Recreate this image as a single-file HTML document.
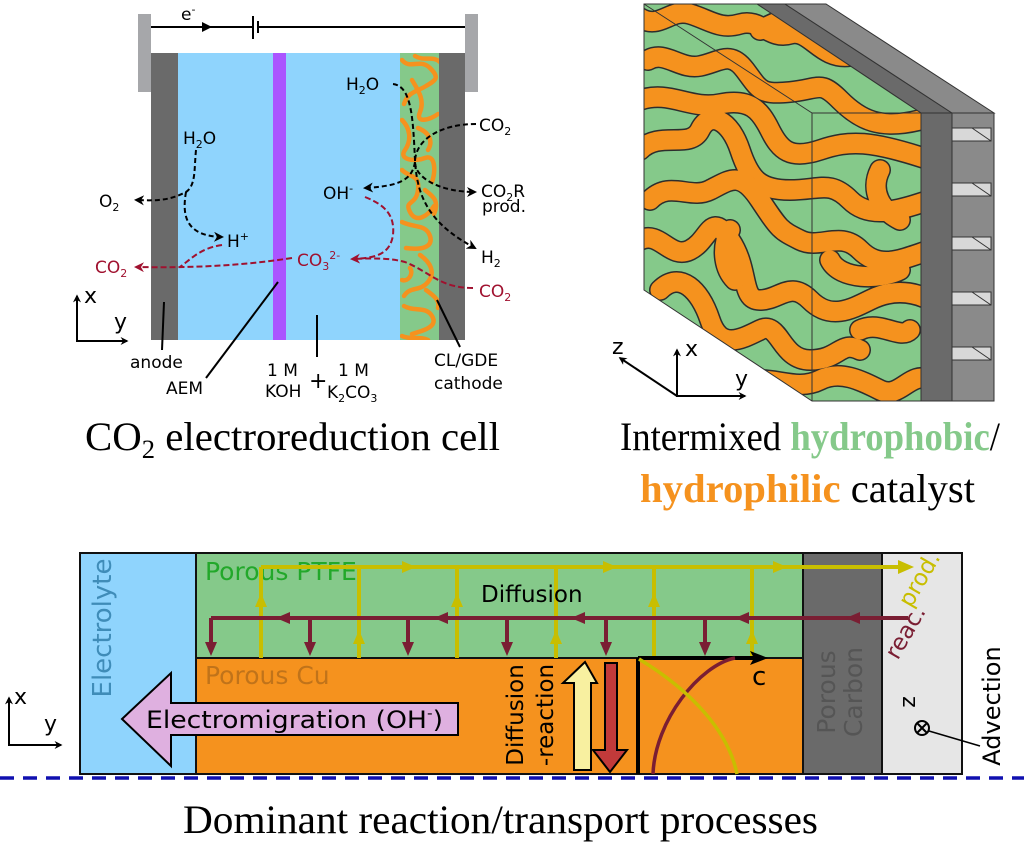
<!DOCTYPE html>
<html><head><meta charset="utf-8"><style>
html,body{margin:0;padding:0;background:#fff;}
svg{display:block;}
text{font-family:"DejaVu Sans","Liberation Sans",sans-serif;}
.serif{font-family:"Liberation Serif",serif;}
</style></head><body>
<svg width="1024" height="844" viewBox="0 0 1024 844" xmlns="http://www.w3.org/2000/svg">
<defs>
<marker id="ab" viewBox="0 0 10 10" refX="8" refY="5" markerWidth="5" markerHeight="5" orient="auto"><path d="M0,0 L10,5 L0,10 L3,5z" fill="#000"/></marker>
<marker id="ar" viewBox="0 0 10 10" refX="8" refY="5" markerWidth="5" markerHeight="5" orient="auto"><path d="M0,0 L10,5 L0,10 L3,5z" fill="#a0112f"/></marker>
<marker id="ak" viewBox="0 0 10 10" refX="8" refY="5" markerWidth="4" markerHeight="4" orient="auto"><path d="M0,0 L10,5 L0,10 L3,5z" fill="#000"/></marker>
<clipPath id="cube"><polygon points="644,4 757,4 921,113 921,401 812,401 644,290"/></clipPath>
<clipPath id="cl"><rect x="400" y="53" width="39" height="287"/></clipPath>
</defs>

<!-- ============ LEFT CELL ============ -->
<rect x="138" y="14" width="13" height="78" fill="#a6a7aa"/>
<rect x="465" y="14" width="13" height="78" fill="#a6a7aa"/>
<line x1="151" y1="27" x2="253" y2="27" stroke="#000" stroke-width="2"/>
<line x1="258" y1="27" x2="465" y2="27" stroke="#000" stroke-width="2"/>
<line x1="253" y1="16" x2="253" y2="39" stroke="#000" stroke-width="2"/>
<line x1="258" y1="21" x2="258" y2="33" stroke="#000" stroke-width="2"/>
<path d="M202,22 L212,27 L202,32 z" fill="#000"/>
<text x="181" y="20" font-size="17">e<tspan dy="-7" font-size="11">-</tspan></text>

<rect x="151" y="53" width="27" height="287" fill="#6a6a6a"/>
<rect x="178" y="53" width="222" height="287" fill="#8fd4fd"/>
<rect x="273" y="53" width="13" height="287" fill="#aa55ff"/>
<rect x="400" y="53" width="39" height="287" fill="#85c98a"/>
<g clip-path="url(#cl)" fill="none" stroke="#f5921e" stroke-width="4.5" stroke-linecap="round">
<path d="M402,60 C410,70 420,58 430,68 S436,80 426,86 S408,92 404,104"/>
<path d="M415,56 C425,62 432,55 440,62"/>
<path d="M412,80 C418,90 425,100 420,112 S430,120 438,114"/>
<path d="M402,120 C410,128 412,140 405,150 S415,162 425,158 S436,170 432,182"/>
<path d="M418,128 C428,132 434,140 428,150"/>
<path d="M402,170 C410,178 420,174 418,190 S404,200 410,212 S428,216 434,206"/>
<path d="M425,190 C432,196 440,200 434,214"/>
<path d="M402,222 C414,228 426,224 430,236 S420,250 406,248"/>
<path d="M420,255 C430,262 436,272 428,282 S410,286 404,296"/>
<path d="M410,268 C414,274 408,282 402,280"/>
<path d="M404,306 C414,312 426,306 432,316 S426,330 412,334"/>
<path d="M426,290 C434,296 440,300 438,308"/>
<path d="M402,336 C410,340 420,336 428,340"/>
</g>
<rect x="439" y="53" width="26" height="287" fill="#6a6a6a"/>

<g fill="none" stroke="#000" stroke-width="2" stroke-dasharray="5,3">
<path d="M196,150 C194,170 196,185 186,192 C170,200 160,201 136,200" marker-end="url(#ab)"/>
<path d="M186,192 C182,215 185,236 222,237" marker-end="url(#ab)"/>
<path d="M393,84 C412,86 413,120 415,160 C417,200 432,225 475,248" marker-end="url(#ab)"/>
<path d="M476,124 C440,124 415,140 415,162 C415,178 440,192 475,192" marker-end="url(#ab)"/>
<path d="M415,162 C412,180 400,186 365,188" marker-end="url(#ab)"/>
</g>
<g fill="none" stroke="#a0112f" stroke-width="2" stroke-dasharray="6,3">
<path d="M222,245 C200,248 190,260 180,267"/>
<path d="M292,258 C240,266 190,268 136,267" marker-end="url(#ar)"/>
<path d="M365,197 C385,205 395,215 393,235 C390,255 375,258 352,259" marker-end="url(#ar)"/>
<path d="M473,288 C440,288 430,272 405,262 C390,258 375,258 352,259"/>
</g>

<g font-size="17" fill="#000">
<text x="183" y="144">H<tspan font-size="11" dy="4">2</tspan><tspan dy="-4">O</tspan></text>
<text x="99" y="207">O<tspan font-size="11" dy="4">2</tspan></text>
<text x="227" y="247">H<tspan font-size="11" dy="-7">+</tspan></text>
<text x="346" y="90">H<tspan font-size="11" dy="4">2</tspan><tspan dy="-4">O</tspan></text>
<text x="479" y="131">CO<tspan font-size="11" dy="4">2</tspan></text>
<text x="323" y="199">OH<tspan font-size="11" dy="-7">-</tspan></text>
<text x="481" y="197">CO<tspan font-size="11" dy="4">2</tspan><tspan dy="-4">R</tspan></text>
<text x="482" y="212">prod.</text>
<text x="481" y="263">H<tspan font-size="11" dy="4">2</tspan></text>
</g>
<g font-size="17" fill="#a0112f">
<text x="95" y="273">CO<tspan font-size="11" dy="4">2</tspan></text>
<text x="297" y="266">CO<tspan font-size="11" dy="4">3</tspan><tspan font-size="11" dy="-11">2-</tspan></text>
<text x="479" y="297">CO<tspan font-size="11" dy="4">2</tspan></text>
</g>
<g stroke="#000" stroke-width="2" fill="none">
<path d="M77,341 L77,296" marker-end="url(#ak)"/>
<path d="M76,341 L127,341" marker-end="url(#ak)"/>
<line x1="164" y1="302" x2="162" y2="350"/>
<line x1="278" y1="282" x2="206" y2="378"/>
<line x1="317" y1="315" x2="317" y2="357"/>
<line x1="437" y1="300" x2="460" y2="347"/>
</g>
<text x="84" y="303" font-size="22">x</text>
<text x="114" y="329" font-size="22">y</text>
<g font-size="17" fill="#000">
<text x="130" y="368">anode</text>
<text x="166" y="394">AEM</text>
<text x="267" y="376">1 M</text>
<text x="265" y="397">KOH</text>
<text x="309" y="388" font-size="22">+</text>
<text x="338" y="376">1 M</text>
<text x="327" y="398">K<tspan font-size="11" dy="4">2</tspan><tspan dy="-4">CO</tspan><tspan font-size="11" dy="4">3</tspan></text>
<text x="434" y="366">CL/GDE</text>
<text x="434" y="389">cathode</text>
</g>
<text class="serif" x="85" y="450" font-size="40" textLength="415" lengthAdjust="spacingAndGlyphs">CO<tspan font-size="26" dy="8">2</tspan><tspan dy="-8"> electroreduction cell</tspan></text>

<!-- ============ CUBE ============ -->
<polygon points="757,4 785,4 952,113 921,113" fill="#6a6a6a" stroke="#333" stroke-width="1"/>
<polygon points="785,4 826,4 994,113 952,113" fill="#8a8a8a" stroke="#333" stroke-width="1"/>
<rect x="921" y="113" width="31" height="288" fill="#6a6a6a" stroke="#333" stroke-width="1"/>
<rect x="952" y="113" width="42" height="288" fill="#8a8a8a" stroke="#333" stroke-width="1"/>
<g fill="#d8d8d8" stroke="#333" stroke-width="1">
<rect x="952" y="128" width="39" height="13"/><rect x="952" y="183" width="39" height="13"/>
<rect x="952" y="237" width="39" height="13"/><rect x="952" y="292" width="39" height="13"/>
<rect x="952" y="347" width="39" height="13"/>
</g>
<g stroke="#333" stroke-width="1"><line x1="972" y1="128" x2="991" y2="141"/><line x1="972" y1="183" x2="991" y2="196"/><line x1="972" y1="237" x2="991" y2="250"/><line x1="972" y1="292" x2="991" y2="305"/><line x1="972" y1="347" x2="991" y2="360"/></g>

<g clip-path="url(#cube)">
<rect x="640" y="0" width="290" height="410" fill="#85c98a"/>
<g fill="none" stroke-linecap="round" stroke-linejoin="round">
<g stroke="#2d2d2d" stroke-width="22">
<path id="w1" d="M640,18 C660,30 670,8 690,14 S720,30 740,24 S770,40 790,34 S820,60 850,56"/>
<path id="w2" d="M648,60 C665,50 680,70 700,66 S730,50 745,70 S760,95 790,92 S820,80 840,100 S880,130 920,120"/>
<path id="w3" d="M640,100 C670,90 690,110 720,104 S760,110 770,130 S790,160 820,150 S870,140 930,160"/>
<path id="w4" d="M640,150 C660,130 690,150 700,130 S730,120 740,150 S760,190 790,190 S830,180 850,200 S900,210 930,200"/>
<path id="w5" d="M650,200 C670,180 690,200 710,190 S740,170 760,200 S780,230 800,240 S840,230 860,250 S900,260 930,250"/>
<path id="w6" d="M640,240 C660,230 670,260 690,250 S710,210 730,240 S740,300 760,300 S790,280 810,300 S850,310 870,300 S910,290 930,300"/>
<path id="w7" d="M660,290 C680,270 700,290 710,320 S740,340 760,330 S780,360 810,360 S840,340 860,350"/>
<path id="w8" d="M690,360 C710,340 740,380 760,380 S800,390 820,380 S860,380 880,390 S910,370 930,380"/>
<path id="w9" d="M760,30 C780,20 800,10 830,20"/>
<path id="w10" d="M880,170 C870,190 880,210 900,220"/>
<path id="w11" d="M830,260 C840,280 880,280 900,270"/>
<path id="w12" d="M730,230 C720,250 725,270 735,280"/>
<path id="w13" d="M860,330 C880,320 900,340 910,330"/>
</g>
<g stroke="#f5921e" stroke-width="19">
<use href="#w1"/><use href="#w2"/><use href="#w3"/><use href="#w4"/><use href="#w5"/><use href="#w6"/><use href="#w7"/><use href="#w8"/><use href="#w9"/><use href="#w10"/><use href="#w11"/><use href="#w12"/><use href="#w13"/>
</g>
</g>
</g>
<polygon points="644,4 757,4 921,113 921,401 812,401 644,290" fill="none" stroke="#333" stroke-width="1"/>
<line x1="644" y1="4" x2="812" y2="113" stroke="#333" stroke-width="1"/>
<line x1="812" y1="113" x2="812" y2="401" stroke="#333" stroke-width="1"/>
<line x1="812" y1="113" x2="921" y2="113" stroke="#333" stroke-width="1"/>
<g stroke="#000" stroke-width="2" fill="none">
<path d="M677,396 L677,350" marker-end="url(#ak)"/>
<path d="M676,396 L745,396" marker-end="url(#ak)"/>
<path d="M677,396 L620,358" marker-end="url(#ak)"/>
</g>
<text x="612" y="354" font-size="22">z</text>
<text x="685" y="356" font-size="22">x</text>
<text x="735" y="386" font-size="22">y</text>
<text class="serif" x="620" y="450" font-size="40" textLength="380" lengthAdjust="spacingAndGlyphs">Intermixed <tspan fill="#85c98a" font-weight="bold">hydrophobic</tspan>/</text>
<text class="serif" x="640" y="502" font-size="40" textLength="335" lengthAdjust="spacingAndGlyphs"><tspan fill="#f5921e" font-weight="bold">hydrophilic</tspan> catalyst</text>

<!-- ============ BOTTOM ============ -->
<rect x="80" y="553" width="116" height="221" fill="#8fd4fd"/>
<rect x="196" y="553" width="607" height="105" fill="#85c98a"/>
<rect x="196" y="658" width="607" height="116" fill="#f5921e"/>
<rect x="803" y="553" width="79" height="221" fill="#6a6a6a"/>
<rect x="882" y="553" width="80" height="221" fill="#e6e6e6"/>
<g fill="none" stroke="#111" stroke-width="2">
<rect x="80" y="553" width="882" height="221"/>
<line x1="196" y1="553" x2="196" y2="774"/><line x1="196" y1="658" x2="803" y2="658"/>
<line x1="803" y1="553" x2="803" y2="774"/><line x1="882" y1="553" x2="882" y2="774"/>
</g>
<text x="205" y="580" font-size="25" fill="#22a82a">Porous PTFE</text>
<text x="205" y="684" font-size="25" fill="#c0731a">Porous Cu</text>
<text transform="translate(111,628) rotate(-90)" font-size="26" fill="#3f8cb8" text-anchor="middle">Electrolyte</text>
<text transform="translate(843,692) rotate(-90)" font-size="25" fill="#555" text-anchor="middle"><tspan x="0" y="-8">Porous</tspan><tspan x="0" y="19">Carbon</tspan></text>
<text transform="translate(1000,706) rotate(-90)" font-size="24" fill="#000" text-anchor="middle">Advection</text>

<g stroke="#c8be00" stroke-width="4" fill="none">
<line x1="261" y1="567" x2="905" y2="567"/>
<line x1="261" y1="567" x2="261" y2="658"/><line x1="359" y1="567" x2="359" y2="658"/>
<line x1="457" y1="567" x2="457" y2="658"/><line x1="556" y1="567" x2="556" y2="658"/>
<line x1="654" y1="567" x2="654" y2="658"/><line x1="752" y1="567" x2="752" y2="658"/>
</g>
<g fill="#c8be00">
<path d="M402,561 L416,567 L402,573z"/><path d="M603,561 L617,567 L603,573z"/><path d="M773,561 L787,567 L773,573z"/><path d="M898,560 L914,567 L898,574z"/>
<path d="M255,607 L261,593 L267,607z"/><path d="M353,644 L359,630 L365,644z"/><path d="M451,607 L457,593 L463,607z"/><path d="M550,644 L556,630 L562,644z"/><path d="M648,607 L654,593 L660,607z"/><path d="M746,644 L752,630 L758,644z"/>
</g>
<g stroke="#7a1e33" stroke-width="4" fill="none">
<line x1="211" y1="618" x2="908" y2="618"/>
<line x1="211" y1="618" x2="211" y2="650"/><line x1="310" y1="618" x2="310" y2="650"/>
<line x1="408" y1="618" x2="408" y2="650"/><line x1="507" y1="618" x2="507" y2="650"/>
<line x1="606" y1="618" x2="606" y2="650"/><line x1="705" y1="618" x2="705" y2="650"/>
</g>
<g fill="#7a1e33">
<path d="M290,612 L276,618 L290,624z"/><path d="M448,612 L434,618 L448,624z"/><path d="M585,612 L571,618 L585,624z"/><path d="M749,612 L735,618 L749,624z"/><path d="M860,612 L846,618 L860,624z"/>
<path d="M205,642 L211,656 L217,642z"/><path d="M304,642 L310,656 L316,642z"/><path d="M402,642 L408,656 L414,642z"/><path d="M501,642 L507,656 L513,642z"/><path d="M600,642 L606,656 L612,642z"/><path d="M699,642 L705,656 L711,642z"/>
</g>
<text x="481" y="602" font-size="23">Diffusion</text>
<text transform="translate(926,583) rotate(-60)" font-size="23" fill="#c8be00" text-anchor="middle">prod.</text>
<text transform="translate(912,636) rotate(-60)" font-size="23" fill="#7a1e33" text-anchor="middle">reac.</text>

<path d="M122,719 L171,673 L171,703 L458,703 L458,735 L171,735 L171,766 z" fill="#dfb0e0" stroke="#000" stroke-width="2"/>
<text x="146" y="728" font-size="24" textLength="297" lengthAdjust="spacingAndGlyphs">Electromigration (OH<tspan font-size="14" dy="-10">-</tspan><tspan dy="10">)</tspan></text>

<text transform="translate(523,715) rotate(-90)" font-size="23" text-anchor="middle">Diffusion</text>
<text transform="translate(553,715) rotate(-90)" font-size="23" text-anchor="middle">-reaction</text>
<path d="M585,662 L597,683 L591,683 L591,770 L574,770 L574,683 L563,683 z" fill="#f8f0a0" stroke="#000" stroke-width="2"/>
<path d="M605,663 L617,663 L617,750 L627,750 L610,772 L593,750 L605,750 z" fill="#c23a3a" stroke="#000" stroke-width="2"/>

<line x1="638" y1="658" x2="638" y2="774" stroke="#000" stroke-width="4"/>
<line x1="638" y1="658" x2="755" y2="658" stroke="#000" stroke-width="4"/>
<path d="M750,651 L768,658 L750,665 L754,658z" fill="#000"/>
<text x="752" y="685" font-size="26">c</text>
<path d="M653,774 C655,720 700,665 735,658" fill="none" stroke="#7a1e33" stroke-width="3.5"/>
<path d="M639,659 C690,690 728,730 737,774" fill="none" stroke="#c8be00" stroke-width="3.5"/>

<text transform="translate(915,702) rotate(-90)" font-size="22" text-anchor="middle">z</text>
<circle cx="922" cy="728" r="7" fill="none" stroke="#000" stroke-width="2"/>
<line x1="917" y1="723" x2="927" y2="733" stroke="#000" stroke-width="2"/><line x1="927" y1="723" x2="917" y2="733" stroke="#000" stroke-width="2"/>
<line x1="929" y1="731" x2="980" y2="746" stroke="#000" stroke-width="1.5"/>

<g stroke="#000" stroke-width="2" fill="none">
<path d="M9,745 L9,698" marker-end="url(#ak)"/>
<path d="M8,745 L61,745" marker-end="url(#ak)"/>
</g>
<text x="14" y="704" font-size="22">x</text>
<text x="44" y="731" font-size="22">y</text>

<line x1="0" y1="778" x2="1024" y2="778" stroke="#1010b0" stroke-width="3.5" stroke-dasharray="14,9"/>
<text class="serif" x="183" y="833" font-size="40" textLength="635" lengthAdjust="spacingAndGlyphs">Dominant reaction/transport processes</text>
</svg>
</body></html>
